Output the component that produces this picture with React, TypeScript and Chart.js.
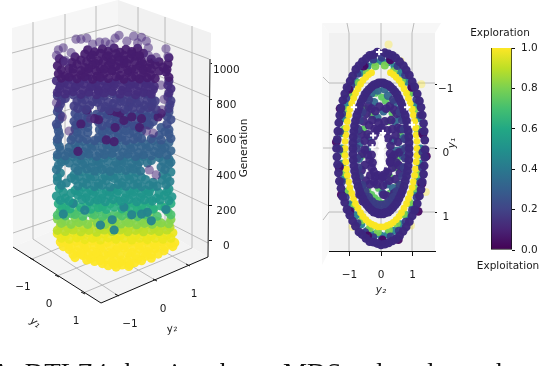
import React, { useEffect, useRef } from "react";
import { Chart, registerables } from "chart.js";

Chart.register(...registerables);

type P = [number, number];
const FONT = '"DejaVu Sans"';

/* ---------- left panel: projected 3-D scatter, [horizontal position, generation height] ---------- */
const generationTicks = [0, 200, 400, 600, 800, 1000];

const backRing: P[] = [[73,1140],[78,1140],[84,1146],[97,1124],[103,1124],[113,1146],[117,1162],[132,1157],[140,1151],[145,1129],[60,1091],[55,1080],[62,1021],[68,1064],[165,1086],[147,1091],[167,1042],[155,1037],[147,1048],[53,1048],[62,1010],[90,1113],[108,1113],[125,1129],[136,1119],[160,880],[163,800],[161,740],[53,780],[59,700],[145,620],[152,608],[148,400],[155,372],[88,690],[66,620]];
const genTop: P[] = [[85,1080],[92,1068],[100,1085],[106,1072],[112,1090],[118,1066],[124,1082],[130,1070],[136,1088],[142,1060],[56,1030],[60,1015],[72,1040],[78,1022],[88,1035],[96,1018],[104,1042],[110,1025],[116,1038],[122,1020],[128,1030],[134,1044],[140,1016],[150,1028],[158,1012],[168,1035],[54,990],[66,975],[74,998],[82,980],[90,995],[98,972],[106,992],[114,985],[122,1000],[130,970],[138,990],[146,978],[154,995],[162,982],[167,1000],[55,945],[62,932],[70,950],[78,938],[86,955],[94,930],[102,948],[110,960],[118,935],[126,952],[134,928],[142,948],[150,938],[165,955],
[82,1056],[90,1050],[98,1060],[106,1046],[114,1058],[122,1048],[130,1056],[138,1046],[69,1008],[84,1012],[93,1002],[101,1014],[109,1006],[117,1016],[125,1004],[133,1012],[141,1000],[149,1008],[58,966],[70,972],[78,962],[86,974],[94,960],[102,970],[110,964],[118,974],[126,962],[134,970],[142,964],[150,972],[158,960],[166,968],[58,920],[66,926],[74,916],[82,928],[90,914],[98,924],[106,918],[114,928],[122,914],[130,924],[138,916],[146,922],[154,918],[168,924]];
const gen900: P[] = [[53,905],[61,892],[69,910],[77,896],[85,915],[93,888],[101,905],[109,893],[117,912],[125,899],[133,887],[141,908],[149,896],[168,903],[56,860],[64,848],[72,866],[80,852],[88,870],[96,846],[104,862],[112,874],[120,850],[128,864],[136,845],[144,868],[152,855],[170,860],
[57,878],[65,884],[73,874],[81,886],[89,872],[97,882],[105,876],[113,888],[121,872],[129,884],[137,876],[145,886],[153,874],[167,880],[54,838],[62,830],[70,842],[78,828],[86,840],[94,826],[102,836],[110,844],[118,830],[126,840],[134,826],[142,838],[150,830],[168,836]];
const gen800: P[] = [[54,820],[62,805],[70,825],[78,810],[86,828],[94,803],[102,818],[110,832],[118,806],[126,822],[134,812],[142,828],[150,806],[167,815],[57,772],[71,762],[79,780],[87,765],[95,783],[103,758],[111,775],[119,788],[127,760],[135,778],[143,765],[151,782],[169,770],
[58,794],[74,790],[82,798],[90,786],[98,796],[106,784],[114,800],[122,788],[130,796],[138,784],[146,794],[154,790],[170,792],[55,750],[75,748],[83,742],[99,752],[107,740],[115,754],[123,742],[131,750],[139,744],[147,752],[155,742],[168,748]];
const gen700: P[] = [[54,730],[72,720],[80,738],[94,715],[102,733],[110,745],[118,720],[126,738],[134,716],[142,734],[150,722],[168,728],[56,686],[71,675],[79,692],[96,672],[104,690],[112,702],[120,676],[128,696],[136,680],[144,698],[152,674],[170,685],
[57,708],[75,700],[98,704],[106,712],[114,698],[122,708],[130,702],[138,710],[146,700],[154,708],[166,704],[53,660],[73,654],[81,664],[100,650],[108,662],[116,652],[124,664],[132,650],[140,660],[148,654],[166,660],[85,722],[85,696],[85,668]];
const genDark: P[] = [[108,735],[114,728],[118,722],[92,690],[96,684],[130,700],[140,690],[157,700],[113,640],[150,760],[84,740],[160,720],[78,660],[112,560],[75,505],[104,570],[128,780],[146,830],[96,850],[122,680],[138,640]];
const gen600: P[] = [[54,645],[72,632],[80,650],[97,628],[105,646],[113,656],[121,630],[129,650],[137,634],[146,655],[160,640],[168,628],[56,598],[70,588],[78,606],[96,584],[104,602],[112,612],[120,590],[128,606],[136,586],[150,576],[158,596],[168,604],
[55,620],[74,614],[100,616],[108,624],[116,610],[124,622],[132,612],[140,620],[164,616],[54,574],[68,570],[76,578],[84,572],[92,566],[100,578],[108,570],[116,580],[124,566],[132,574],[140,578],[160,570],[170,578],[85,640],[85,612]];
const gen500: P[] = [[54,556],[72,545],[80,562],[88,548],[96,566],[104,544],[112,558],[120,570],[128,546],[136,560],[144,548],[152,566],[160,544],[168,556],[57,512],[65,500],[73,518],[81,502],[89,520],[97,496],[105,512],[113,525],[121,500],[129,515],[137,498],[145,520],[153,504],[161,516],[170,508],
[56,532],[66,528],[76,536],[84,526],[92,534],[100,524],[108,538],[116,528],[124,536],[132,526],[140,534],[148,530],[156,536],[164,526],[54,486],[62,480],[70,492],[78,482],[86,490],[94,478],[102,488],[110,494],[118,480],[126,490],[134,476],[142,486],[150,480],[158,492],[166,484]];
const gen400: P[] = [[54,470],[62,455],[70,474],[78,458],[86,478],[94,452],[102,468],[110,482],[118,456],[126,472],[134,458],[142,476],[150,454],[158,470],[168,462],[55,425],[72,412],[80,430],[88,414],[96,432],[104,408],[112,424],[120,438],[128,412],[136,428],[160,416],[168,432],
[58,445],[66,440],[74,448],[82,438],[90,446],[98,436],[106,450],[114,442],[122,448],[130,436],[138,446],[146,440],[162,448],[170,444],[53,402],[75,396],[84,406],[92,394],[100,402],[108,392],[116,406],[124,398],[132,404],[139,394],[164,402]];
const gen350: P[] = [[57,382],[71,372],[79,390],[87,374],[95,392],[103,366],[111,384],[119,396],[127,370],[135,386],[162,376],[170,388],[54,338],[63,326],[72,344],[80,330],[88,348],[96,324],[104,340],[112,352],[120,328],[128,344],[136,322],[144,346],[152,330],[161,342],[169,334],
[54,360],[68,354],[76,362],[84,352],[92,360],[100,350],[108,364],[116,354],[124,362],[132,352],[140,358],[166,356],[58,314],[75,310],[84,318],[92,306],[100,314],[108,304],[116,318],[124,308],[132,316],[140,306],[148,314],[156,308],[165,316]];
const gen280: P[] = [[56,296],[72,284],[80,302],[88,286],[96,306],[104,280],[112,296],[120,310],[128,282],[136,300],[144,286],[152,304],[168,292],[53,252],[62,240],[75,258],[83,242],[91,262],[99,238],[107,254],[115,266],[123,240],[131,258],[139,244],[147,262],[155,240],[163,256],[171,248],
[60,274],[68,268],[76,278],[84,268],[92,276],[100,264],[108,276],[116,282],[124,268],[132,276],[140,266],[148,276],[158,270],[166,276],[57,228],[66,224],[79,232],[87,222],[95,230],[103,220],[111,232],[119,224],[127,232],[135,220],[143,230],[151,224],[159,230],[168,226]];
const gen200: P[] = [[55,208],[63,194],[71,212],[84,196],[92,216],[100,192],[108,208],[116,222],[124,194],[132,212],[140,198],[148,216],[160,196],[170,210],[59,186],[67,180],[78,188],[88,178],[96,186],[104,176],[112,190],[120,180],[128,188],[136,178],[144,188],[152,180],[164,186]];
const gen160: P[] = [[57,168],[68,154],[76,172],[88,156],[96,176],[104,150],[120,168],[128,152],[136,172],[144,156],[152,174],[167,164],[54,144],[62,140],[72,148],[80,138],[92,146],[100,136],[112,148],[120,140],[128,146],[136,136],[144,146],[156,138],[170,146]];
const gen120: P[] = [[54,122],[62,110],[72,128],[80,112],[91,130],[99,108],[107,124],[116,136],[124,110],[132,126],[140,112],[148,130],[156,108],[170,120],[58,98],[68,92],[76,102],[85,92],[95,100],[103,92],[111,104],[119,94],[127,100],[135,90],[143,98],[151,92],[160,100],[168,96]];
const gen80: P[] = [[57,82],[65,70],[73,88],[81,72],[89,90],[97,66],[105,82],[113,94],[121,70],[129,86],[137,72],[145,90],[153,68],[161,84],[169,76],[54,58],[62,52],[70,60],[78,50],[86,58],[94,48],[102,60],[110,52],[118,60],[126,50],[134,58],[142,50],[150,58],[158,52],[166,60]];
const gen30: P[] = [[54,40],[62,26],[70,44],[78,28],[86,46],[94,22],[102,38],[110,50],[118,26],[126,42],[134,28],[142,46],[150,24],[158,40],[166,30],[172,44],[58,14],[66,8],[74,16],[82,6],[90,14],[98,4],[106,16],[114,8],[122,14],[130,4],[138,14],[146,6],[154,14],[162,8],[170,14]];
const genGround: P[] = [[57,-8],[65,-22],[73,-4],[81,-20],[89,-2],[97,-26],[105,-10],[113,2],[121,-24],[129,-6],[137,-20],[145,-2],[153,-24],[161,-8],[170,-18],[66,-50],[74,-64],[82,-46],[90,-62],[98,-44],[106,-68],[114,-52],[122,-42],[130,-66],[138,-48],[146,-62],[154,-46],[163,-58],[172,-34],[72,-96],[80,-84],[88,-102],[96,-88],[104,-108],[112,-92],[120,-110],[128,-90],[136,-104],[144,-88],[150,-100],[157,-76],[100,-130],[106,-142],[114,-150],[120,-138],[127,-146],[133,-125],[92,-118],
[60,-34],[68,-36],[76,-30],[84,-38],[92,-28],[100,-34],[108,-30],[116,-38],[124,-28],[132,-36],[140,-30],[148,-36],[156,-28],[164,-36],[70,-78],[78,-74],[86,-80],[94,-72],[102,-82],[110,-72],[118,-80],[126,-72],[134,-82],[142,-74],[150,-78],[84,-110],[110,-122],[118,-124],[126,-118],[140,-114],[128,-136],[112,-136],[98,-112],[174,-12]];
const accentTeal: P[] = [[110,118],[82,172],[130,146],[146,160],[60,150],[98,88],[122,190],[150,112],[70,210],[112,60],[140,150],[165,176]];

const leftLayers: { pts: P[]; color: string }[] = [
  { pts: genGround, color: "rgba(253,231,37,0.94)" },
  { pts: gen30, color: "rgba(235,230,28,0.92)" },
  { pts: gen80, color: "rgba(186,222,40,0.9)" },
  { pts: gen120, color: "rgba(132,212,75,0.9)" },
  { pts: gen160, color: "rgba(74,193,109,0.9)" },
  { pts: gen200, color: "rgba(39,173,129,0.9)" },
  { pts: accentTeal, color: "rgba(37,132,142,0.95)" },
  { pts: gen280, color: "rgba(31,149,139,0.9)" },
  { pts: gen350, color: "rgba(39,128,142,0.9)" },
  { pts: gen400, color: "rgba(44,114,142,0.9)" },
  { pts: gen500, color: "rgba(51,99,141,0.9)" },
  { pts: gen600, color: "rgba(56,86,140,0.9)" },
  { pts: gen700, color: "rgba(60,74,137,0.9)" },
  { pts: genDark, color: "rgba(70,30,110,0.9)" },
  { pts: gen800, color: "rgba(65,60,132,0.9)" },
  { pts: gen900, color: "rgba(68,44,125,0.92)" },
  { pts: genTop, color: "rgba(69,28,110,0.92)" },
  { pts: backRing, color: "rgba(80,50,130,0.55)" },
];

/* ---------- right panel: top-down view, [y2, y1] ---------- */
const y2Ticks = [-1, 0, 1];
const y1Ticks = [-1, 0, 1];
const tickText: Record<string, string> = { "-1": "\u22121", "0": "0", "1": "1" };

const tealRing: P[] = [[1.25,0],[1.23,.24],[1.17,.47],[1.08,.68],[.96,.87],[.80,1.04],[.63,1.18],[.43,1.28],[.22,1.34],[0,1.36],[-.22,1.34],[-.43,1.28],[-.63,1.18],[-.80,1.04],[-.96,.87],[-1.08,.68],[-1.17,.47],[-1.23,.24],[-1.25,0],[-1.23,-.24],[-1.17,-.47],[-1.08,-.68],[-.96,-.87],[-.80,-1.04],[-.63,-1.18],[-.43,-1.28],[-.22,-1.34],[0,-1.36],[.22,-1.34],[.43,-1.28],[.63,-1.18],[.80,-1.04],[.96,-.87],[1.08,-.68],[1.17,-.47],[1.23,-.24]];
const paleOutside: P[] = [[.24,-1.62],[1.28,-1.0],[1.42,.68],[.95,1.2],[-.9,1.22],[.62,-1.36]];
const limeRing: P[] = [[1.20,.1],[1.15,.4],[1.05,.62],[.9,.84],[.72,1.02],[.5,1.17],[.25,1.27],[-.1,1.3],[-.35,1.24],[-.6,1.12],[-.84,.9],[-1.02,.66],[-1.14,.38],[-1.19,.08],[-1.16,-.3],[-1.06,-.6],[-.9,-.82],[-.7,-1.02],[-.45,-1.18],[-.18,-1.28],[.12,-1.29],[.4,-1.2],[.66,-1.05],[.88,-.85],[1.05,-.6],[1.16,-.3]];
const yellowRing: P[] = [[1.14,0],[1.14,.11],[1.12,.21],[1.10,.32],[1.07,.42],[1.03,.52],[.99,.61],[.93,.70],[.87,.78],[.81,.86],[.73,.93],[.65,1.00],[.57,1.06],[.48,1.11],[.39,1.15],[.30,1.18],[.20,1.20],[.10,1.22],[0,1.22],[-.10,1.22],[-.20,1.20],[-.30,1.18],[-.39,1.15],[-.48,1.11],[-.57,1.06],[-.65,1.00],[-.73,.93],[-.81,.86],[-.87,.78],[-.93,.70],[-.99,.61],[-1.03,.52],[-1.07,.42],[-1.10,.32],[-1.12,.21],[-1.14,.11],[-1.14,0],[-1.14,-.11],[-1.12,-.21],[-1.10,-.32],[-1.07,-.42],[-1.03,-.52],[-.99,-.61],[-.93,-.70],[-.87,-.78],[-.81,-.86],[-.73,-.93],[-.65,-1.00],[-.57,-1.06],[-.48,-1.11],[-.39,-1.15],[-.30,-1.18],[.30,-1.18],[.39,-1.15],[.48,-1.11],[.57,-1.06],[.65,-1.00],[.73,-.93],[.81,-.86],[.87,-.78],[.93,-.70],[.99,-.61],[1.03,-.52],[1.07,-.42],[1.10,-.32],[1.12,-.21],[1.14,-.11]];
const greenInner: P[] = [[-.18,-.86],[.02,-.8],[.14,-.74],[-.3,-.52],[-.56,-.3],[-.62,.12],[-.42,.66],[-.3,.72],[-.2,.77],[-.1,.81],[0,.85],[.12,.86],[.3,.45],[.46,.3],[.52,.16],[.55,.56],[-.68,.42],[-.5,-.62],[.35,-.55],[.22,-.42],[.62,-.2],[-.08,.62],[.28,.7]];
const tealInner: P[] = [[-.42,-.8],[-.22,-.72],[.22,-.82],[.42,-.72],[.08,-.58],[-.12,-.48],[-.62,-.55],[.62,-.5],[.45,-.42],[.65,.02],[.48,.04],[-.68,-.08],[-.45,.02],[-.36,-.18],[.38,-.12],[.7,.3],[.38,.62],[-.6,.58],[.05,.7],[.18,.56],[-.25,.9],[.3,.9],[-.1,-.9],[.12,-.92],[-.3,-.86],[.6,-.62],[-.72,-.28],[.72,-.16],[-.7,.16],[.7,.12]];
const darkInner: P[] = [[-.55,-.42],[-.38,-.36],[-.2,-.3],[.02,-.32],[.2,-.28],[.36,-.3],[.54,-.32],[-.52,-.12],[.54,-.1],[-.52,.02],[.34,.14],[-.36,.18],[-.52,.26],[.36,.3],[.6,.38],[-.34,.42],[-.18,.44],[.02,.46],[.14,.36],[-.48,.5],[.46,.48],[-.14,.56],[.18,.74],[.62,.68],[-.68,.72],[-.58,.82],[.04,.98],[-.05,-.65],[-.3,-.62],[.28,-.66],
[-.62,-.22],[-.42,-.22],[.46,-.2],[.62,-.3],[-.28,-.44],[-.08,-.4],[.12,-.42],[.32,-.44],[.5,-.54],[-.46,-.54],[-.18,-.58],[.16,-.62],[-.4,-.66],[.42,-.6],[-.6,.08],[.58,.06],[-.42,.1],[.42,.1],[.3,.22],[-.3,.3],[.48,.22],[-.62,.34],[.56,.26],[-.22,.52],[.26,.5],[.06,.58],[-.36,.56],[.42,.7],[-.5,.76],[.52,.76],[.08,.72],[-.14,.92],[.16,.94],[-.38,.82],[.34,.8],
[-.3,-.08],[.3,-.04],[-.3,.1],[.29,.08],[-.27,.22],[.28,.2],[-.2,-.2],[.22,-.16],[-.22,.36],[.22,.38],[-.08,.42],[.06,.44],[-.02,-.3],[-.12,-.28]];
const innerRing2: P[] = [[.78,0],[.77,.15],[.73,.30],[.68,.44],[.6,.57],[.5,.67],[.39,.76],[.27,.83],[.14,.87],[0,.88],[-.14,.87],[-.27,.83],[-.39,.76],[-.5,.67],[-.6,.57],[-.68,.44],[-.73,.3],[-.77,.15],[-.78,0],[-.77,-.15],[-.73,-.3],[-.68,-.44],[-.6,-.57],[-.39,-.76],[.39,-.76],[.6,-.57],[.68,-.44],[.73,-.3],[.77,-.15]];
const innerRing: P[] = [[.89,0],[.89,.09],[.88,.18],[.86,.27],[.84,.35],[.81,.43],[.77,.51],[.73,.59],[.68,.66],[.63,.72],[.57,.78],[.51,.84],[.45,.88],[.38,.92],[.30,.96],[.23,.99],[.15,1.0],[.08,1.02],[0,1.02],[-.08,1.02],[-.15,1.0],[-.23,.99],[-.30,.96],[-.38,.92],[-.45,.88],[-.51,.84],[-.57,.78],[-.63,.72],[-.68,.66],[-.73,.59],[-.77,.51],[-.81,.43],[-.84,.35],[-.86,.27],[-.88,.18],[-.89,.09],[-.89,0],[-.89,-.09],[-.88,-.18],[-.86,-.27],[-.84,-.35],[-.81,-.43],[-.77,-.51],[-.73,-.59],[-.68,-.66],[-.63,-.72],[-.57,-.78],[-.51,-.84],[-.45,-.88],[-.38,-.92],[-.30,-.96],[-.23,-.99],[-.15,-1.0],[-.08,-1.02],[0,-1.02],[.08,-1.02],[.15,-1.0],[.23,-.99],[.30,-.96],[.38,-.92],[.45,-.88],[.51,-.84],[.57,-.78],[.63,-.72],[.68,-.66],[.73,-.59],[.77,-.51],[.81,-.43],[.84,-.35],[.86,-.27],[.88,-.18],[.89,-.09]];
const outerRing2: P[] = [[1.31,.06],[1.30,.3],[1.24,.54],[1.13,.76],[.98,.96],[.78,1.14],[.56,1.28],[.3,1.37],[.04,1.41],[-.24,1.38],[-.5,1.3],[-.74,1.16],[-.96,.97],[-1.12,.76],[-1.24,.52],[-1.3,.28],[-1.32,.02],[-1.3,-.26],[-1.23,-.54],[-1.1,-.78],[-.94,-.98],[-.74,-1.16],[-.5,-1.3],[-.24,-1.38],[.02,-1.41],[.28,-1.38],[.52,-1.28],[.76,-1.14],[.96,-.96],[1.12,-.76],[1.24,-.52],[1.3,-.26]];
const outerRing: P[] = [[1.40,.02],[1.39,.14],[1.37,.27],[1.35,.40],[1.31,.52],[1.27,.64],[1.22,.74],[1.15,.86],[1.07,.96],[.99,1.05],[.90,1.14],[.80,1.22],[.70,1.29],[.59,1.36],[.48,1.41],[.36,1.44],[.24,1.47],[.12,1.49],[0,1.50],[-.12,1.48],[-.24,1.46],[-.36,1.45],[-.48,1.40],[-.60,1.34],[-.70,1.30],[-.81,1.21],[-.90,1.13],[-.99,1.04],[-1.08,.95],[-1.15,.84],[-1.22,.75],[-1.27,.62],[-1.32,.51],[-1.35,.38],[-1.38,.25],[-1.40,.13],[-1.41,0],[-1.39,-.14],[-1.37,-.27],[-1.34,-.40],[-1.31,-.52],[-1.27,-.63],[-1.21,-.75],[-1.15,-.85],[-1.08,-.95],[-.98,-1.05],[-.90,-1.13],[-.80,-1.23],[-.70,-1.29],[-.59,-1.35],[-.47,-1.40],[-.36,-1.45],[-.24,-1.46],[-.12,-1.50],[.12,-1.49],[.24,-1.47],[.36,-1.45],[.47,-1.41],[.59,-1.35],[.71,-1.29],[.80,-1.22],[.90,-1.14],[.99,-1.04],[1.07,-.96],[1.15,-.85],[1.22,-.74],[1.27,-.64],[1.31,-.52],[1.35,-.39],[1.37,-.27],[1.39,-.13]];
const outerDark: P[] = [[1.30,.55],[1.18,.98],[.55,1.42],[.05,1.43],[-.42,1.36],[-1.0,.98],[-1.33,.3],[-1.42,-.1],[-1.3,-.62],[-1.02,-.92],[-.55,-1.28],[.3,-1.38],[.98,-.95],[1.33,-.22],[1.44,.12],[-1.26,.72]];
const whiteCrosses: P[] = [[-.06,-1.5],[-.86,-.64],[.83,-.64],[.98,-.37],[-.25,-.2],[.06,-.24],[-.27,-.02]];
const holeCore: P[] = [[0,-.14],[.02,-.04],[0,.06],[-.02,.14],[.03,.22],[-.02,.3]];

const rightLayers: { pts: P[]; color: string; r?: number; style?: string }[] = [
  { pts: paleOutside, color: "rgba(253,231,37,0.35)" },
  { pts: tealRing, color: "rgba(38,130,142,0.95)" },
  { pts: limeRing, color: "rgba(122,209,81,0.95)" },
  { pts: yellowRing, color: "rgba(250,230,35,0.98)", r: 3.4 },
  { pts: greenInner, color: "rgba(94,201,98,0.95)", r: 3.6 },
  { pts: tealInner, color: "rgba(49,104,142,0.95)", r: 4.2 },
  { pts: darkInner, color: "rgba(62,38,125,0.95)", r: 4.4 },
  { pts: innerRing2, color: "rgba(59,60,132,0.95)", r: 4.4 },
  { pts: innerRing, color: "rgba(60,40,125,0.98)", r: 4.4 },
  { pts: outerRing2, color: "rgba(55,60,135,0.95)", r: 3.8 },
  { pts: outerDark, color: "rgba(68,10,100,0.95)", r: 4.4 },
  { pts: outerRing, color: "rgba(60,40,125,0.98)", r: 4.4 },
  { pts: holeCore, color: "#ffffff", r: 3.6 },
  { pts: whiteCrosses, color: "#ffffff", r: 3.2, style: "cross" },
];

/* ---------- colour bar ---------- */
const colorbarTicks = [0, 0.2, 0.4, 0.6, 0.8, 1];
const viridisStops = ["#440154", "#482475", "#414487", "#355f8d", "#2a788e", "#21918c", "#22a884", "#44bf70", "#7ad151", "#bddf26", "#fde725"];

/* ---------- decoration of the 3-D panes ---------- */
type Seg = number[];
const leftPanes: { pts: Seg; fill: string }[] = [
  { pts: [12, 28, 118, 0, 118, 204, 13, 247], fill: "#f6f6f6" },
  { pts: [118, 0, 211, 33, 208, 257, 118, 204], fill: "#f1f1f1" },
  { pts: [13, 247, 118, 204, 208, 257, 101, 303], fill: "#f4f4f4" },
];
const leftGrid: Seg[] = [
  [33, 22, 33, 239], [65, 14, 65, 226], [96, 6, 96, 213],
  [138, 7, 138, 216], [165, 17, 165, 232], [192, 26, 192, 248],
  [12, 53, 118, 25, 209, 59], [12, 90, 118, 59, 209, 97], [13, 127, 118, 94, 209, 133],
  [13, 163, 118, 128, 209, 170], [13, 197, 118, 163, 209, 206], [13, 233, 118, 197, 208, 243],
  [32, 259, 138, 216], [57, 276, 165, 232], [83, 293, 192, 248],
  [117, 295, 33, 239], [155, 280, 65, 226], [188, 265, 96, 213],
];
const leftAxes: Seg[] = [[13, 247, 101, 303, 208, 257, 210, 59]];
const leftTickMarks: Seg[] = [[30, 258, 34, 260], [55, 275, 59, 277], [81, 292, 85, 294], [119, 296, 115, 294], [157, 281, 153, 279], [190, 266, 186, 264]];

const rightPanes: { pts: Seg; fill: string }[] = [
  { pts: [322, 23, 441, 23, 435, 33, 329, 33], fill: "#f7f7f7" },
  { pts: [322, 23, 329, 33, 329, 251, 322, 265], fill: "#f8f8f8" },
  { pts: [329, 33, 435, 33, 435, 251, 329, 251], fill: "#f1f1f1" },
];
const rightGrid: Seg[] = [
  [347, 23, 349, 33, 349, 251], [381, 23, 381, 251], [414, 23, 412, 33, 412, 251],
  [323, 77, 329, 83, 435, 83], [323, 148, 329, 148, 435, 148], [323, 220, 329, 212, 435, 212],
];

type Label = { text: string; x: number; y: number; rot: number; italic?: boolean; size?: number };
const leftLabels: Label[] = [
  { text: "\u22121", x: 23, y: 287, rot: 0 },
  { text: "0", x: 49, y: 304, rot: 0 },
  { text: "1", x: 76, y: 321, rot: 0 },
  { text: "\u22121", x: 130, y: 324, rot: 0 },
  { text: "0", x: 163, y: 309, rot: 0 },
  { text: "1", x: 194, y: 294, rot: 0 },
  { text: "y\u2081", x: 35, y: 323, rot: 35, italic: true },
  { text: "y\u2082", x: 172, y: 329, rot: -12, italic: true },
  { text: "Generation", x: 244, y: 148, rot: -90 },
];
const rightLabels: Label[] = [
  { text: "y\u2082", x: 381, y: 290, rot: 0, italic: true },
  { text: "y\u2081", x: 452, y: 143, rot: -90, italic: true },
];
const barLabels: Label[] = [
  { text: "Exploration", x: 500, y: 33, rot: 0 },
  { text: "Exploitation", x: 508, y: 266, rot: 0 },
];
const captionLeft = "A: DTLZ4 showing the";
const captionRight = "MDS reduced search";

function decoPlugin(id: string, offset: number, panes: { pts: Seg; fill: string }[], grid: Seg[], axes: Seg[], ticks: Seg[], labels: Label[]) {
  const path = (c: CanvasRenderingContext2D, s: Seg) => {
    c.beginPath();
    for (let i = 0; i < s.length; i += 2) {
      if (i === 0) c.moveTo(s[i] - offset, s[i + 1]);
      else c.lineTo(s[i] - offset, s[i + 1]);
    }
  };
  return {
    id,
    beforeDatasetsDraw(chart: any) {
      const c: CanvasRenderingContext2D = chart.ctx;
      c.save();
      panes.forEach((p) => { path(c, p.pts); c.closePath(); c.fillStyle = p.fill; c.fill(); });
      c.strokeStyle = "#b4b4b4"; c.lineWidth = 0.9;
      grid.forEach((g) => { path(c, g); c.stroke(); });
      c.strokeStyle = "#111"; c.lineWidth = 1;
      axes.forEach((g) => { path(c, g); c.stroke(); });
      ticks.forEach((g) => { path(c, g); c.stroke(); });
      c.restore();
    },
    afterDraw(chart: any) {
      const c: CanvasRenderingContext2D = chart.ctx;
      c.save();
      c.fillStyle = "#1a1a1a"; c.textAlign = "center"; c.textBaseline = "middle";
      labels.forEach((l) => {
        c.save();
        c.translate(l.x - offset, l.y);
        c.rotate((l.rot * Math.PI) / 180);
        c.font = `${l.italic ? "italic " : ""}${l.size ?? 10.5}px ${FONT}`;
        c.fillText(l.text, 0, 0);
        c.restore();
      });
      c.restore();
    },
  };
}

const toXY = (p: P[]) => p.map(([x, y]) => ({ x, y }));

export default function App() {
  const leftRef = useRef<HTMLCanvasElement>(null);
  const rightRef = useRef<HTMLCanvasElement>(null);
  const barRef = useRef<HTMLCanvasElement>(null);

  useEffect(() => {
    const base = { animation: false as const, responsive: false, devicePixelRatio: 1 };
    const noPlug = { legend: { display: false }, tooltip: { enabled: false }, title: { display: false } };
    const tickFont = { family: FONT, size: 10.5 };

    const left = new Chart(leftRef.current!, {
      type: "scatter",
      data: {
        datasets: leftLayers.map((l, i) => ({
          data: toXY(l.pts), backgroundColor: l.color, borderWidth: 0, pointRadius: 4.6,
          order: leftLayers.length - i, clip: false as any,
        })),
      },
      options: {
        ...base,
        layout: { padding: 0 },
        plugins: noPlug,
        scales: {
          x: { type: "linear", display: false, min: 0, max: 209 },
          y: {
            type: "linear", position: "right", min: -668.5, max: 1320.65,
            afterFit: (s: any) => { s.width = 63; },
            afterBuildTicks: (s: any) => { s.ticks = generationTicks.map((value) => ({ value })); },
            border: { display: false },
            grid: { drawOnChartArea: false, drawTicks: true, tickLength: 3, color: "#111" },
            ticks: { font: tickFont, color: "#1a1a1a", padding: 1, crossAlign: "center", labelOffset: 6, autoSkip: false, maxRotation: 0, callback: (v: any) => String(v) },
          },
        },
      } as any,
      plugins: [decoPlugin("leftDeco", 0, leftPanes, leftGrid, leftAxes, leftTickMarks, leftLabels)],
    });

    const right = new Chart(rightRef.current!, {
      type: "scatter",
      data: {
        datasets: rightLayers.map((l, i) => ({
          data: toXY(l.pts), backgroundColor: l.color, borderColor: l.color,
          borderWidth: l.style ? 2 : 0, pointRadius: l.r ?? 4, pointStyle: (l.style ?? "circle") as any,
          order: rightLayers.length - i, clip: false as any,
        })),
      },
      options: {
        ...base,
        layout: { padding: { left: 39, top: 23, bottom: 75, right: 0 } },
        plugins: noPlug,
        scales: {
          x: {
            type: "linear", min: -1.651, max: 1.714,
            afterFit: (s: any) => { s.height = 40; },
            afterBuildTicks: (s: any) => { s.ticks = y2Ticks.map((value) => ({ value })); },
            border: { display: true, color: "#111", width: 1 },
            grid: { drawOnChartArea: false, drawTicks: true, tickLength: 5, color: "#111" },
            ticks: { font: tickFont, color: "#1a1a1a", padding: 13, maxRotation: 0, callback: (v: any) => tickText[String(v)] ?? v },
          },
          y: {
            type: "linear", position: "right", reverse: true, min: -1.953, max: 1.597,
            afterFit: (s: any) => { s.width = 25; },
            afterBuildTicks: (s: any) => { s.ticks = y1Ticks.map((value) => ({ value })); },
            border: { display: false },
            grid: { drawOnChartArea: false, drawTicks: true, tickLength: 2, color: "#111" },
            ticks: { font: tickFont, color: "#1a1a1a", padding: 1, crossAlign: "center", labelOffset: 5, maxRotation: 0, callback: (v: any) => tickText[String(v)] ?? v },
          },
        },
      } as any,
      plugins: [decoPlugin("rightDeco", 290, rightPanes, rightGrid, [], [], rightLabels)],
    });

    const bar = new Chart(barRef.current!, {
      type: "bar",
      data: {
        labels: ["colour"],
        datasets: [{
          data: [1],
          barPercentage: 1,
          categoryPercentage: 1,
          borderColor: "#111",
          borderWidth: 1,
          borderSkipped: "top" as any,
          backgroundColor: (ctx: any) => {
            const a = ctx.chart.chartArea;
            if (!a) return viridisStops[0];
            const g = ctx.chart.ctx.createLinearGradient(0, a.bottom, 0, a.top);
            viridisStops.forEach((c, i) => g.addColorStop(i / (viridisStops.length - 1), c));
            return g;
          },
        }],
      },
      options: {
        ...base,
        layout: { padding: { left: 31, top: 48, bottom: 116, right: 0 } },
        plugins: noPlug,
        scales: {
          x: { display: false },
          y: {
            type: "linear", position: "right", min: 0, max: 1,
            afterFit: (s: any) => { s.width = 32; },
            afterBuildTicks: (s: any) => { s.ticks = colorbarTicks.map((value) => ({ value })); },
            border: { display: false },
            grid: { drawOnChartArea: false, drawTicks: true, tickLength: 3, color: "#111" },
            ticks: { font: tickFont, color: "#1a1a1a", padding: 6, callback: (v: any) => Number(v).toFixed(1) },
          },
        },
      } as any,
      plugins: [decoPlugin("barDeco", 460, [], [], [], [], barLabels)],
    });

    return () => { left.destroy(); right.destroy(); bar.destroy(); };
  }, []);

  const abs = (left: number): React.CSSProperties => ({ position: "absolute", left, top: 0 });
  const captionStyle: React.CSSProperties = {
    position: "absolute", top: 359, whiteSpace: "nowrap",
    fontFamily: '"Liberation Serif"', fontSize: 27, lineHeight: "28px", color: "#111",
  };
  return (
    <div style={{ position: "fixed", left: 0, top: 0, width: 544, height: 366, overflow: "hidden", background: "#fff" }}>
      <canvas ref={leftRef} width={272} height={366} style={abs(0)} />
      <canvas ref={rightRef} width={170} height={366} style={abs(290)} />
      <canvas ref={barRef} width={84} height={366} style={abs(460)} />
      <div style={{ ...captionStyle, left: -9 }}>{captionLeft}</div>
      <div style={{ ...captionStyle, left: 283 }}>{captionRight}</div>
    </div>
  );
}
